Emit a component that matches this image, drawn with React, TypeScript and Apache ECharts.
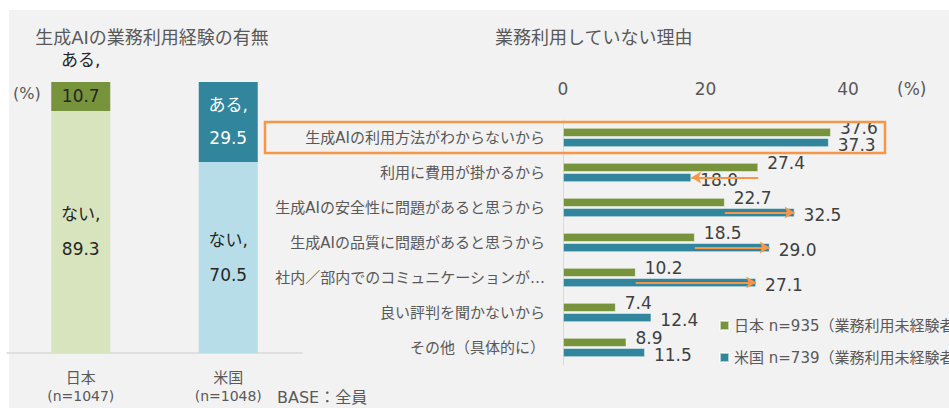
import React, { useEffect, useRef } from "react";
import * as echarts from "echarts";

// ---- Left chart data ----
const leftCategories = ["日本", "米国"];
const leftBaseN = ["(n=1047)", "(n=1048)"];
const usedValues = [10.7, 29.5]; // ある
const notUsedValues = [89.3, 70.5]; // ない

// ---- Right chart data ----
const reasons = [
  "生成AIの利用方法がわからないから",
  "利用に費用が掛かるから",
  "生成AIの安全性に問題があると思うから",
  "生成AIの品質に問題があると思うから",
  "社内／部内でのコミュニケーションが…",
  "良い評判を聞かないから",
  "その他（具体的に）",
];
const japanValues = [37.6, 27.4, 22.7, 18.5, 10.2, 7.4, 8.9];
const usValues = [37.3, 18.0, 32.5, 29.0, 27.1, 12.4, 11.5];
const arrowRows = [1, 2, 3, 4];
const japanName = "日本 n=935（業務利用未経験者）";
const usName = "米国 n=739（業務利用未経験者）";

const FONT = "'DejaVu Sans', 'Noto Sans CJK JP', sans-serif";
const JP_DARK = "#77933c";
const JP_LIGHT = "#d7e4bd";
const US_DARK = "#31859c";
const US_LIGHT = "#b7dee8";
const ORANGE = "#f79646";
const AXIS_TEXT = "#595959";
const VALUE_TEXT = "#404040";

export default function App() {
  const ref = useRef<HTMLDivElement>(null);

  useEffect(() => {
    if (!ref.current) return;
    const chart = echarts.init(ref.current, undefined, { renderer: "svg" });

    const notUsedData = notUsedValues.map((v, i) => ({
      value: v,
      itemStyle: { color: [JP_LIGHT, US_LIGHT][i] },
      label: { color: "#262626" },
    }));
    const usedData = usedValues.map((v, i) => ({
      value: v,
      itemStyle: { color: [JP_DARK, US_DARK][i] },
      label:
        i === 0
          ? { color: "#262626", lineHeight: 36, offset: [0, -18] }
          : { color: "#ffffff", lineHeight: 33 },
    }));

    const option: any = {
      animation: false,
      textStyle: { fontFamily: FONT },
      graphic: [
        {
          type: "text",
          x: 152,
          y: 37,
          style: {
            text: "生成AIの業務利用経験の有無",
            font: `18px ${FONT}`,
            fill: AXIS_TEXT,
            textAlign: "center",
            textVerticalAlign: "middle",
          },
        },
        {
          type: "text",
          x: 495,
          y: 37,
          style: {
            text: "業務利用していない理由",
            font: `18px ${FONT}`,
            fill: AXIS_TEXT,
            textAlign: "left",
            textVerticalAlign: "middle",
          },
        },
        {
          type: "text",
          x: 13,
          y: 93,
          style: {
            text: "(%)",
            font: `16px ${FONT}`,
            fill: AXIS_TEXT,
            textAlign: "left",
            textVerticalAlign: "middle",
          },
        },
        {
          type: "text",
          x: 897,
          y: 89,
          style: {
            text: "(%)",
            font: `17px ${FONT}`,
            fill: AXIS_TEXT,
            textAlign: "left",
            textVerticalAlign: "middle",
          },
        },
        {
          type: "text",
          x: 277,
          y: 397,
          style: {
            text: "BASE：全員",
            font: `16px ${FONT}`,
            fill: AXIS_TEXT,
            textAlign: "left",
            textVerticalAlign: "middle",
          },
        },
        {
          type: "rect",
          shape: { x: 265, y: 122, width: 620, height: 31 },
          style: { fill: "none", stroke: ORANGE, lineWidth: 2.5 },
          z: 10,
        },
      ],
      legend: {
        data: [japanName, usName],
        orient: "vertical",
        left: 714,
        top: 313,
        itemWidth: 9,
        itemHeight: 9,
        itemGap: 17,
        icon: "rect",
        textStyle: { fontSize: 15, color: AXIS_TEXT, fontFamily: FONT },
      },
      grid: [
        { left: 7, top: 82, width: 295, height: 271 },
        { left: 563, top: 120, width: 285, height: 245 },
      ],
      xAxis: [
        {
          gridIndex: 0,
          type: "category",
          data: leftCategories,
          axisLine: { lineStyle: { color: "#d9d9d9", width: 1.5 } },
          axisTick: { show: false },
          axisLabel: {
            margin: 16,
            formatter: (v: string, i: number) => `{a|${v}}\n{b|${leftBaseN[i]}}`,
            rich: {
              a: { fontSize: 15, color: AXIS_TEXT, lineHeight: 18, fontFamily: FONT },
              b: { fontSize: 14, color: AXIS_TEXT, lineHeight: 18, fontFamily: FONT },
            },
          },
        },
        {
          gridIndex: 1,
          type: "value",
          position: "top",
          min: 0,
          max: 40,
          interval: 20,
          splitLine: { show: false },
          axisLine: { show: false },
          axisTick: { show: false },
          axisLabel: { fontSize: 17, color: AXIS_TEXT, margin: 23, fontFamily: FONT },
        },
      ],
      yAxis: [
        {
          gridIndex: 0,
          type: "value",
          min: 0,
          max: 100,
          show: false,
        },
        {
          gridIndex: 1,
          type: "category",
          inverse: true,
          data: reasons,
          axisLine: { show: true, lineStyle: { color: "#d9d9d9", width: 1 } },
          axisTick: { show: false },
          axisLabel: { fontSize: 15, color: AXIS_TEXT, margin: 18, fontFamily: FONT },
        },
      ],
      series: [
        {
          name: "ない",
          type: "bar",
          xAxisIndex: 0,
          yAxisIndex: 0,
          stack: "left",
          barWidth: 59,
          data: notUsedData,
          label: {
            show: true,
            position: "inside",
            fontSize: 17,
            lineHeight: 35,
            fontFamily: FONT,
            formatter: (p: any) => `ない,\n${Number(p.value).toFixed(1)}`,
          },
        },
        {
          name: "ある",
          type: "bar",
          xAxisIndex: 0,
          yAxisIndex: 0,
          stack: "left",
          barWidth: 59,
          data: usedData,
          label: {
            show: true,
            position: "inside",
            fontSize: 17,
            fontFamily: FONT,
            formatter: (p: any) => `ある,\n${Number(p.value).toFixed(1)}`,
          },
        },
        {
          name: japanName,
          type: "bar",
          xAxisIndex: 1,
          yAxisIndex: 1,
          barWidth: 9,
          barGap: "12%",
          data: japanValues,
          itemStyle: { color: JP_DARK, borderColor: "rgba(255,255,255,0.6)", borderWidth: 0.8 },
          label: {
            show: true,
            position: "right",
            distance: 9,
            offset: [0, -4],
            fontSize: 17,
            color: VALUE_TEXT,
            fontFamily: FONT,
            formatter: (p: any) => Number(p.value).toFixed(1),
          },
        },
        {
          name: usName,
          type: "bar",
          xAxisIndex: 1,
          yAxisIndex: 1,
          barWidth: 9,
          barGap: "12%",
          data: usValues,
          itemStyle: { color: US_DARK, borderColor: "rgba(255,255,255,0.6)", borderWidth: 0.8 },
          label: {
            show: true,
            position: "right",
            distance: 9,
            offset: [0, 2],
            fontSize: 17,
            color: VALUE_TEXT,
            fontFamily: FONT,
            formatter: (p: any) => Number(p.value).toFixed(1),
          },
          markLine: {
            silent: true,
            symbol: ["none", "arrow"],
            symbolSize: [9, 10],
            lineStyle: { color: ORANGE, width: 2, type: "solid" },
            label: { show: false },
            z: 5,
            data: arrowRows.map((r) => [
              { coord: [japanValues[r], reasons[r]] },
              { coord: [usValues[r], reasons[r]] },
            ]),
          },
        },
      ],
    };

    chart.setOption(option);
    return () => chart.dispose();
  }, []);

  return (
    <div style={{ position: "fixed", left: 0, top: 0, width: 949, height: 408, background: "#ffffff" }}>
      <div style={{ position: "absolute", left: 9, top: 10, right: 0, bottom: 0, background: "#f2f2f2" }} />
      <div ref={ref} style={{ position: "absolute", left: 0, top: 0, width: 949, height: 408 }} />
    </div>
  );
}
